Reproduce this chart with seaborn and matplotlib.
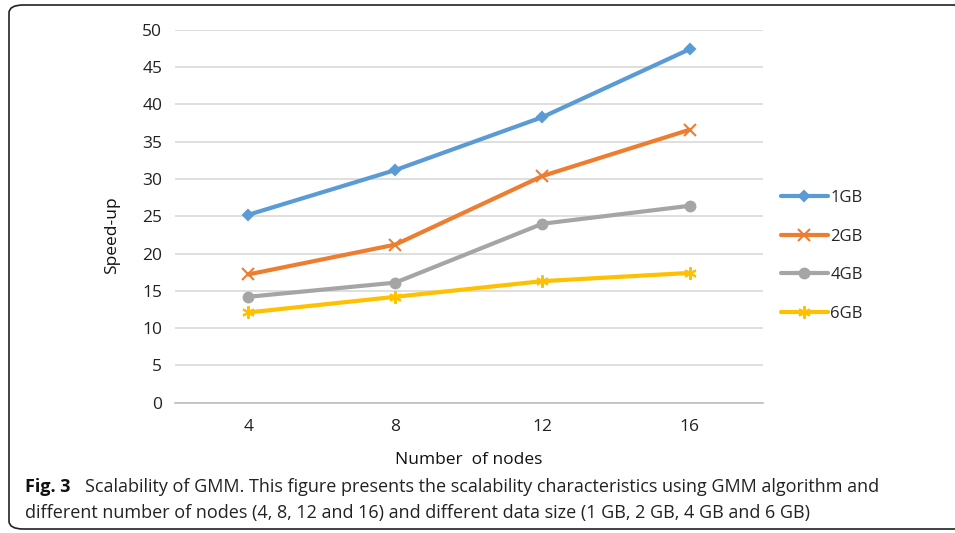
import matplotlib
matplotlib.use("Agg")
import matplotlib.pyplot as plt
from matplotlib.patches import FancyBboxPatch
from matplotlib.ticker import FixedLocator
import seaborn as sns
import pandas as pd

# data
nodes = ["4", "8", "12", "16"]
speedup_1gb = [25.2, 31.2, 38.3, 47.4]
speedup_2gb = [17.2, 21.2, 30.4, 36.6]
speedup_4gb = [14.2, 16.1, 24.0, 26.4]
speedup_6gb = [12.1, 14.2, 16.3, 17.4]
sizes = ["1GB", "2GB", "4GB", "6GB"]

colors = {"1GB": "#5B9BD5", "2GB": "#ED7D31", "4GB": "#A5A5A5", "6GB": "#FFC000"}
markers = {"1GB": "D", "2GB": "x", "4GB": "o", "6GB": (6, 2, 0)}
msize = {"1GB": 5, "2GB": 8, "4GB": 7, "6GB": 9}

df = pd.DataFrame({
    "nodes": nodes * 4,
    "speedup": speedup_1gb + speedup_2gb + speedup_4gb + speedup_6gb,
    "size": [s for s in sizes for _ in nodes],
})

sns.set_style("white")
plt.rcParams["font.family"] = ["Open Sans", "DejaVu Sans"]

fig = plt.figure(figsize=(9.55, 5.33), dpi=100)
ax = fig.add_axes([0.183, 0.2445, 0.616, 0.6995])

for s in sizes:
    sub = df[df["size"] == s]
    sns.lineplot(data=sub, x="nodes", y="speedup", ax=ax, color=colors[s],
                 marker=markers[s], markersize=msize[s], linewidth=3,
                 markeredgewidth=1.5, markeredgecolor=colors[s], label=s,
                 sort=False)

ax.set_xlim(-0.5, 3.5)
ax.set_ylim(0, 50)
ax.set_yticks(range(0, 51, 5))
ax.yaxis.grid(True, color="#D9D9D9", linewidth=1.2)
ax.set_axisbelow(True)
for sp in ["top", "right", "left"]:
    ax.spines[sp].set_visible(False)
ax.spines["bottom"].set_color("#BFBFBF")
ax.spines["bottom"].set_linewidth(1.2)

ax.xaxis.set_minor_locator(FixedLocator([-0.5, 0.5, 1.5, 2.5, 3.5]))
ax.tick_params(axis="x", which="minor", length=6, color="#BFBFBF", width=1.2)
ax.tick_params(axis="x", which="major", length=0, pad=12, labelsize=12.5, labelcolor="#222222")
ax.tick_params(axis="y", length=0, pad=9, labelsize=12.5, labelcolor="#222222")

ax.set_xlabel("Number  of nodes", fontsize=12.5, labelpad=12, color="#111111")
ax.set_ylabel("Speed-up", fontsize=12.5, color="#111111")
ax.yaxis.set_label_coords(-0.093, 0.45)

leg = ax.legend(loc="upper left", bbox_to_anchor=(781 / 955, 1 - 190 / 533),
                bbox_transform=fig.transFigure, frameon=False,
                fontsize=12, handlelength=2.8, handletextpad=0.15,
                labelspacing=1.35, borderaxespad=0, borderpad=0)

# rounded frame around the figure
frame = FancyBboxPatch((9 / 955, 4 / 533), 960 / 955, 524 / 533,
                       boxstyle="round,pad=0,rounding_size=0.015",
                       transform=fig.transFigure, fill=False,
                       edgecolor="#222222", linewidth=1.2)
fig.patches.append(frame)

fig.text(25 / 955, 1 - 487 / 533, "Fig. 3", fontsize=13, fontweight="bold",
         va="center", color="#111111")
fig.text(85 / 955, 1 - 487 / 533,
         "Scalability of GMM. This figure presents the scalability characteristics using GMM algorithm and",
         fontsize=13, va="center", color="#222222")
fig.text(25 / 955, 1 - 513 / 533,
         "different number of nodes (4, 8, 12 and 16) and different data size (1 GB, 2 GB, 4 GB and 6 GB)",
         fontsize=13, va="center", color="#222222")

fig.savefig("out.png", dpi=100)
